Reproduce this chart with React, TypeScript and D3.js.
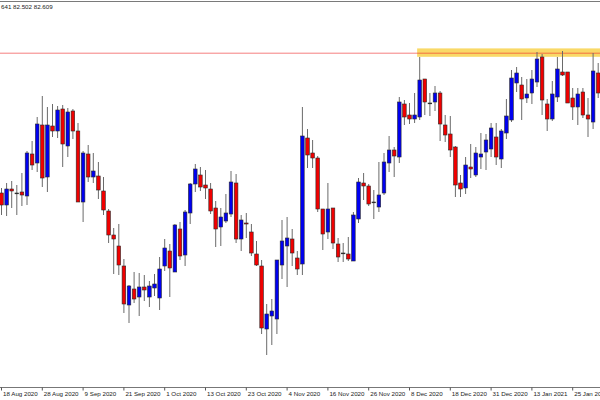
import React from "react";
import * as d3 from "d3";

const opens = [
  77.425, 77.125, 77.525, 77.425, 77.45, 77.35, 78.4, 78.175, 79.125, 77.825,
  79.1, 78.975, 79.525, 78.6, 79.475, 78.975, 77.2, 78.4, 77.825, 77.85,
  77.475, 76.975, 76.375, 76.1, 75.6, 74.625, 75.025, 74.825, 75.075, 74.825,
  75.05, 74.8, 75.6, 75.975, 75.45, 76.525, 75.875, 76.925, 77.65, 77.875,
  77.625, 77.525, 77.05, 76.575, 76.725, 76.9, 77.675, 76.275, 76.675, 76.45,
  75.9, 75.6, 74.025, 74.35, 74.275, 75.625, 76.1, 76.275, 75.8, 75.65,
  78.8, 78.425, 78.3, 77.025, 76.45, 77.05, 76.15, 75.925, 75.9, 75.725,
  76.775, 77.675, 77.6, 77.2, 77.075, 77.425, 78.175, 78.5, 78.325, 79.65,
  79.375, 79.275, 79.325, 80.275, 79.675, 79.7, 79.925, 79.125, 78.9, 78.575,
  77.675, 77.55, 78.075, 77.875, 78.325, 78.45, 78.525, 78.825, 78.275, 78.925,
  79.25, 80.175, 80.125, 79.8, 79.925, 80.2, 80.825, 79.65, 79.275, 79.825,
  80.45, 80.45, 79.8, 79.575, 79.95, 79.375, 79.2, 80.425,
];
const highs = [
  77.55, 77.675, 77.725, 77.625, 77.925, 78.475, 78.725, 79.325, 79.85, 79.575,
  79.65, 79.6, 79.625, 79.55, 79.525, 79.175, 78.475, 78.625, 78.425, 78.2,
  77.825, 77.025, 76.55, 76.65, 75.775, 75.125, 75.45, 75.425, 75.375, 75.225,
  75.4, 75.825, 76.275, 76.15, 76.65, 76.7, 77.0, 77.675, 78.15, 78.075,
  78.0, 77.675, 77.225, 77.05, 77.4, 77.975, 77.9, 76.875, 76.925, 76.65,
  76.225, 75.75, 74.65, 74.775, 75.75, 76.75, 76.825, 76.525, 75.975, 79.575,
  79.025, 78.75, 78.35, 77.025, 77.675, 77.05, 76.3, 76.175, 76.325, 76.95,
  77.8, 77.925, 77.65, 77.5, 78.2, 78.425, 78.85, 78.575, 79.825, 79.75,
  79.675, 79.925, 80.825, 80.275, 79.925, 80.1, 79.975, 79.375, 79.35, 78.6,
  77.875, 78.325, 78.65, 78.575, 78.925, 78.9, 79.175, 79.175, 79.025, 79.775,
  80.5, 80.575, 80.325, 80.275, 80.5, 80.95, 80.9, 79.775, 80.225, 80.825,
  80.975, 80.45, 80.05, 80.05, 80.05, 79.8, 80.925, 80.675,
];
const lows = [
  76.875, 76.85, 77.05, 76.875, 77.1, 77.125, 78.0, 77.95, 77.575, 77.45,
  78.825, 78.8, 78.075, 78.325, 78.775, 77.2, 76.7, 77.7, 77.675, 77.275,
  76.875, 76.175, 75.4, 75.375, 74.425, 74.175, 74.675, 74.35, 74.725, 74.575,
  74.85, 74.5, 75.475, 74.825, 75.45, 75.75, 75.6, 76.65, 77.45, 77.475,
  77.275, 76.9, 76.075, 76.1, 76.675, 76.825, 76.175, 75.975, 76.3, 75.85,
  75.6, 73.9, 73.375, 73.625, 73.9, 75.275, 75.075, 75.6, 75.375, 75.375,
  78.05, 78.05, 76.95, 76.0, 76.275, 76.025, 75.7, 75.7, 75.725, 75.725,
  76.675, 77.25, 77.1, 76.775, 76.95, 77.375, 77.95, 77.825, 78.175, 79.125,
  79.15, 79.175, 79.25, 79.375, 79.35, 79.475, 78.725, 78.7, 78.325, 77.325,
  77.325, 77.4, 77.8, 77.825, 78.025, 78.0, 78.325, 78.125, 78.05, 78.775,
  79.2, 79.95, 79.25, 79.675, 79.65, 80.075, 79.375, 78.975, 79.225, 79.7,
  80.35, 79.675, 79.25, 79.125, 79.3, 78.825, 79.025, 79.8,
];
const closes = [
  77.125, 77.525, 77.475, 77.425, 77.375, 78.425, 78.125, 79.15, 77.8, 79.125,
  78.975, 79.5, 78.65, 79.45, 78.975, 77.2, 78.425, 77.825, 77.975, 77.5,
  77.0, 76.375, 76.275, 75.625, 74.65, 75.1, 74.775, 75.075, 75.0, 75.1,
  75.15, 75.525, 76.05, 75.55, 76.625, 75.85, 76.95, 77.65, 78.025, 77.575,
  77.55, 76.975, 76.525, 76.825, 76.925, 77.7, 76.275, 76.75, 76.65, 75.925,
  75.625, 74.05, 74.4, 74.475, 75.75, 76.225, 76.3, 75.925, 75.525, 78.85,
  78.375, 78.3, 77.025, 76.4, 77.025, 76.175, 75.825, 75.925, 75.775, 76.875,
  77.7, 77.6, 77.15, 77.2, 77.375, 78.2, 78.5, 78.35, 79.7, 79.325,
  79.275, 79.375, 80.25, 79.7, 79.675, 79.925, 79.15, 78.875, 78.5, 77.625,
  77.525, 78.125, 78.025, 78.425, 78.4, 78.75, 79.05, 78.325, 78.975, 79.35,
  80.3, 80.425, 79.775, 79.9, 80.275, 80.775, 79.75, 79.275, 79.9, 80.525,
  80.375, 79.675, 79.575, 79.9, 79.375, 79.275, 80.475, 79.925,
];

const tickIndex = [0, 8, 16, 24, 32, 40, 48, 56, 64, 72, 80, 88, 96, 104, 112];
const tickLabels = [
  "18 Aug 2020", "28 Aug 2020", "9 Sep 2020", "21 Sep 2020", "1 Oct 2020",
  "13 Oct 2020", "23 Oct 2020", "4 Nov 2020", "16 Nov 2020", "26 Nov 2020",
  "8 Dec 2020", "18 Dec 2020", "31 Dec 2020", "13 Jan 2021", "25 Jan 2021",
];

const headerText = "641 82.502 82.609";
const resistanceLevel = 80.92;
const zoneTop = 81.04;
const zoneBottom = 80.83;
const zoneStartIndex = 81.5;

const W = 600;
const H = 400;
const BAR_STEP = 5.1;
const X0 = 1.5;
const AXIS_Y = 387.5;

export default function App() {
  const n = opens.length;
  const x = d3.scaleLinear().domain([0, n - 1]).range([X0, X0 + BAR_STEP * (n - 1)]);
  const y = d3.scaleLinear().domain([72.25, 82.25]).range([400, 0]);
  const bw = 3.6;
  const font = "'Liberation Sans', Arial, sans-serif";

  return (
    <div style={{ position: "fixed", left: 0, top: 0, width: W, height: H, background: "#fff" }}>
      <svg width={W} height={H} style={{ display: "block" }}>
        <rect x={0} y={0} width={W} height={H} fill="#fff" />
        {/* top border */}
        <line x1={0} x2={W} y1={1.5} y2={1.5} stroke="#7a7a7a" strokeWidth={1} />
        <text x={1} y={8.6} fontFamily={font} fontSize={6.2} fill="#222">
          {headerText}
        </text>

        {/* resistance zone */}
        <rect
          x={x(zoneStartIndex)}
          y={y(zoneTop)}
          width={W - x(zoneStartIndex) + 10}
          height={y(zoneBottom) - y(zoneTop)}
          fill="#f8d65a"
          opacity={0.92}
        />
        <line
          x1={0}
          x2={W}
          y1={y(resistanceLevel)}
          y2={y(resistanceLevel)}
          stroke="#ee2a2a"
          strokeOpacity={0.6}
          strokeWidth={1}
        />

        {/* candles */}
        {opens.map((o, i) => {
          const c = closes[i];
          const h = highs[i];
          const l = lows[i];
          const cx = x(i);
          const top = y(Math.max(o, c));
          const bot = y(Math.min(o, c));
          const fill = c > o ? "#0000f0" : c < o ? "#f00000" : "#222";
          return (
            <g key={i}>
              <line x1={cx} x2={cx} y1={y(h)} y2={y(l)} stroke="#6a6a6a" strokeWidth={1} />
              <rect
                x={cx - bw / 2}
                y={top}
                width={bw}
                height={Math.max(bot - top, 0.8)}
                fill={fill}
                stroke="#2a2a2a"
                strokeWidth={0.6}
              />
            </g>
          );
        })}

        {/* bottom axis */}
        <line x1={0} x2={W} y1={AXIS_Y} y2={AXIS_Y} stroke="#777" strokeWidth={1} />
        {tickIndex.map((ti, k) => (
          <g key={ti}>
            <line x1={x(ti)} x2={x(ti)} y1={AXIS_Y} y2={AXIS_Y + 3} stroke="#555" strokeWidth={1} />
            <text x={x(ti) + 1.5} y={395.6} fontFamily={font} fontSize={6.2} fill="#222">
              {tickLabels[k]}
            </text>
          </g>
        ))}
      </svg>
    </div>
  );
}
